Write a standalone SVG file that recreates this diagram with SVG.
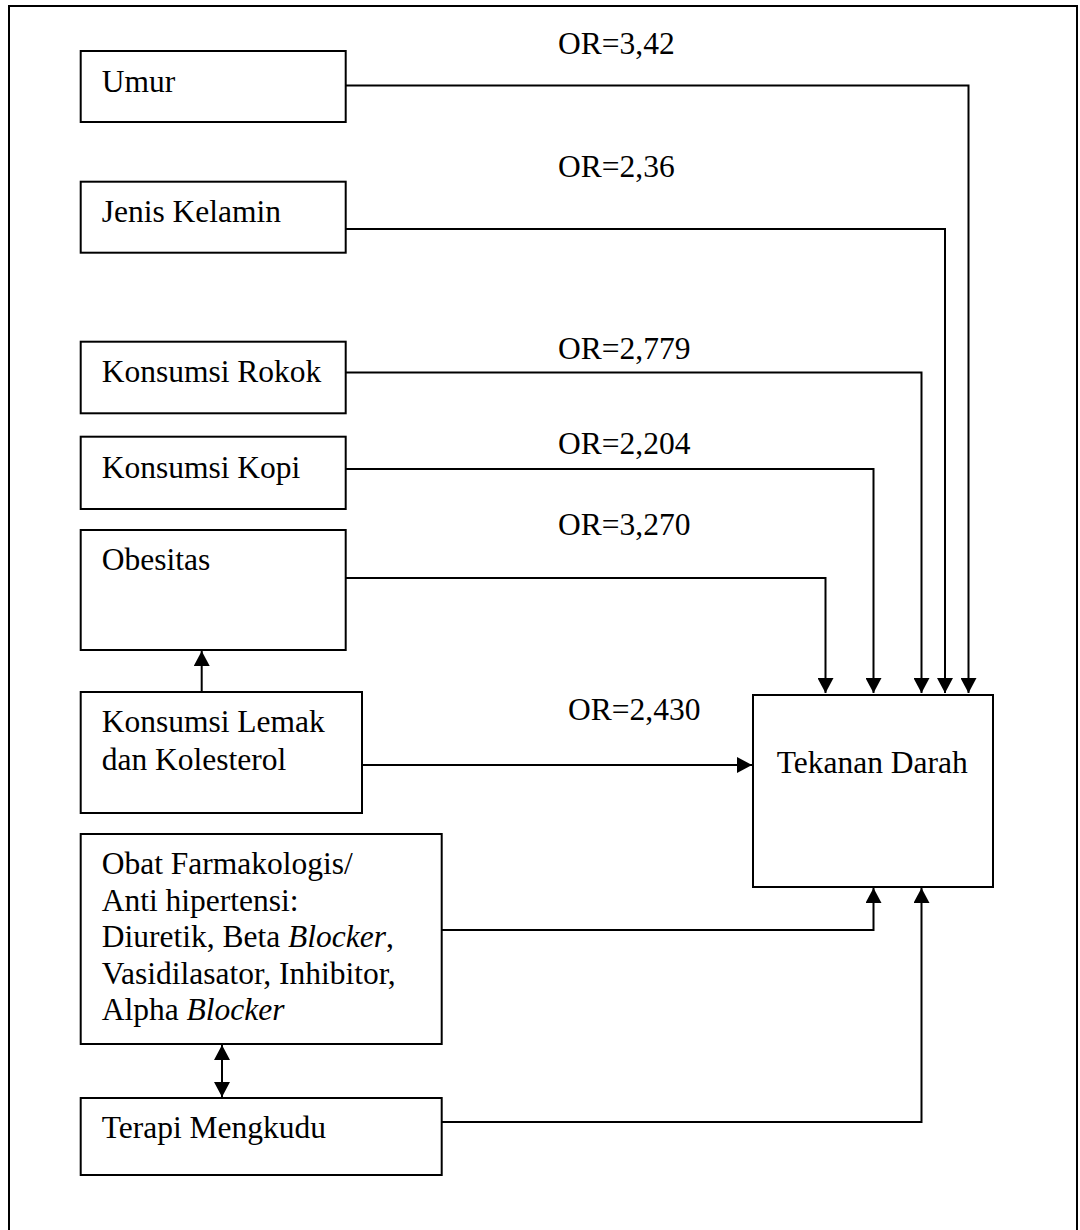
<svg xmlns="http://www.w3.org/2000/svg" width="1080" height="1230" viewBox="0 0 1080 1230">
<style>
  .box { fill: #ffffff; stroke: #000000; stroke-width: 2; }
  .frame { fill: none; stroke: #000000; stroke-width: 2; }
  .conn { fill: none; stroke: #000000; stroke-width: 2; marker-end: url(#arrow); }
  .t { font-family: "Liberation Serif", "Times New Roman", serif; font-size: 31.5px; fill: #000000; }
  .i { font-style: italic; }
</style>
<defs>
  <marker id="arrow" markerUnits="userSpaceOnUse" markerWidth="16" markerHeight="16" refX="15" refY="8" orient="auto-start-reverse" viewBox="0 0 16 16">
    <path d="M0,0 L15,8 L0,16 z" fill="#000000"/>
  </marker>
</defs>
<rect width="1080" height="1230" fill="#ffffff"/>
<rect class="frame" x="9" y="6" width="1068" height="1240"/>

<g id="connectors">
  <path class="conn" d="M345.7,85.5 H968.5 V693"/>
  <path class="conn" d="M345.7,229 H945 V693"/>
  <path class="conn" d="M345.7,372.5 H921.5 V693"/>
  <path class="conn" d="M345.7,469 H873.5 V693"/>
  <path class="conn" d="M345.7,578 H825.5 V693"/>
  <path class="conn" d="M362,765 H752"/>
  <path class="conn" d="M201.7,692 V651"/>
  <path class="conn" d="M441.7,930 H873.5 V888"/>
  <path class="conn" d="M441.7,1122 H921.5 V888"/>
  <path class="conn" d="M222,1045 V1097" style="marker-start: url(#arrow);"/>
</g>

<g id="labels">
  <text class="t" x="558" y="53.5">OR=3,42</text>
  <text class="t" x="558" y="177">OR=2,36</text>
  <text class="t" x="558" y="358.5">OR=2,779</text>
  <text class="t" x="558" y="453.5">OR=2,204</text>
  <text class="t" x="558" y="535">OR=3,270</text>
  <text class="t" x="568" y="720">OR=2,430</text>
</g>

<g id="umur">
  <rect class="box" x="80.7" y="51" width="265" height="71"/>
  <text class="t" x="101.7" y="92">Umur</text>
</g>
<g id="jenis-kelamin">
  <rect class="box" x="80.7" y="181.7" width="265" height="71"/>
  <text class="t" x="101.7" y="221.7">Jenis Kelamin</text>
</g>
<g id="konsumsi-rokok">
  <rect class="box" x="80.7" y="341.7" width="265" height="71.6"/>
  <text class="t" x="101.7" y="381.7">Konsumsi Rokok</text>
</g>
<g id="konsumsi-kopi">
  <rect class="box" x="80.7" y="436.7" width="265" height="72.3"/>
  <text class="t" x="101.7" y="478.3">Konsumsi Kopi</text>
</g>
<g id="obesitas">
  <rect class="box" x="80.7" y="530" width="265" height="120"/>
  <text class="t" x="101.7" y="570">Obesitas</text>
</g>
<g id="konsumsi-lemak">
  <rect class="box" x="80.7" y="692" width="281.3" height="121"/>
  <text class="t" x="101.7" y="732">Konsumsi Lemak</text>
  <text class="t" x="101.7" y="769.5">dan Kolesterol</text>
</g>
<g id="obat">
  <rect class="box" x="80.7" y="834" width="361" height="210"/>
  <text class="t" x="101.7" y="874">Obat Farmakologis/</text>
  <text class="t" x="101.7" y="910.5">Anti hipertensi:</text>
  <text class="t" x="101.7" y="947">Diuretik, Beta <tspan class="i">Blocker</tspan>,</text>
  <text class="t" x="101.7" y="983.5">Vasidilasator, Inhibitor,</text>
  <text class="t" x="101.7" y="1020">Alpha <tspan class="i">Blocker</tspan></text>
</g>
<g id="terapi-mengkudu">
  <rect class="box" x="80.7" y="1098" width="361" height="77"/>
  <text class="t" x="101.7" y="1138">Terapi Mengkudu</text>
</g>
<g id="tekanan-darah">
  <rect class="box" x="753" y="695" width="240" height="192"/>
  <text class="t" x="776.7" y="773">Tekanan Darah</text>
</g>
</svg>
